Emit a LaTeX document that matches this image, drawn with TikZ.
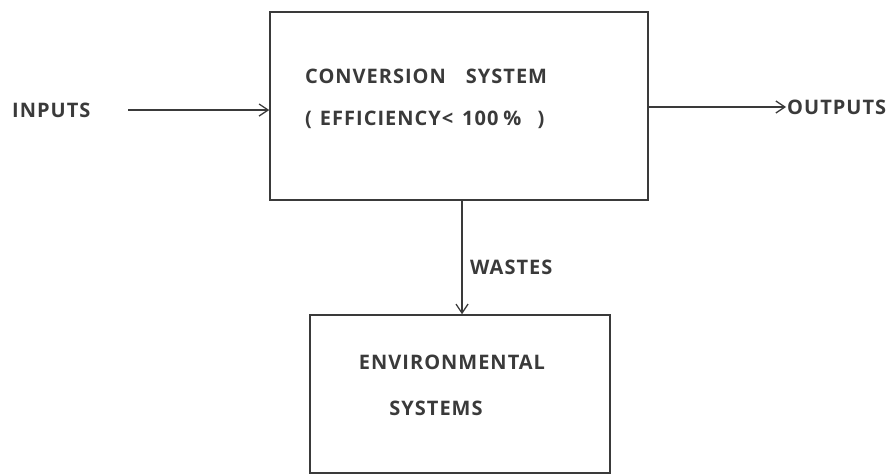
\documentclass[tikz,border=0pt]{standalone}
\usepackage{fontspec}
\setmainfont{Open Sans}[LetterSpace=5]
\usetikzlibrary{arrows.meta}
\definecolor{ink}{HTML}{3A3A3A}
\begin{document}
\begin{tikzpicture}[x=1pt,y=-1pt,
  lbl/.style={font=\fontsize{20}{24}\selectfont\bfseries, text=ink, inner sep=0pt},
  boxline/.style={draw=ink, line width=1.5pt},
  conn/.style={draw=ink, line width=1.3pt, -{Straight Barb[length=9pt,width=12pt,line width=1.3pt]}}]
\useasboundingbox (0,0) rectangle (891,475);
% boxes
\node[boxline, minimum width=378, minimum height=188, inner sep=0pt] (conv) at (459,106) {};
\node[boxline, minimum width=300, minimum height=158, inner sep=0pt] (env) at (460,394) {};
% texts
\node[lbl, anchor=west] (t1) at (305,76) {CONVERSION\hspace{20pt}SYSTEM};
\node[lbl, anchor=west] (t2) at (305,120) {(\hspace{8pt}EFFICIENCY\hspace{1pt}<\hspace{9pt}100\hspace{5pt}\%\hspace{16pt})};
\node[lbl, anchor=west] (in) at (12,110) {INPUTS};
\node[lbl, anchor=west] (out) at (787,107) {OUTPUTS};
\node[lbl, anchor=west] (w) at (470,267) {WASTES};
\node[lbl] (e1) at (452,362) {ENVIRONMENTAL};
\node[lbl] (e2) at (436,408) {SYSTEMS};
% connectors
\coordinate (inS) at (128,110);
\coordinate (outE) at (786,107);
\draw[conn] (inS) -- (conv.west |- inS);
\draw[conn] (conv.east |- outE) -- (outE);
\draw[conn] (conv.south -| 462,0) -- (env.north -| 462,0);
\end{tikzpicture}
\end{document}
